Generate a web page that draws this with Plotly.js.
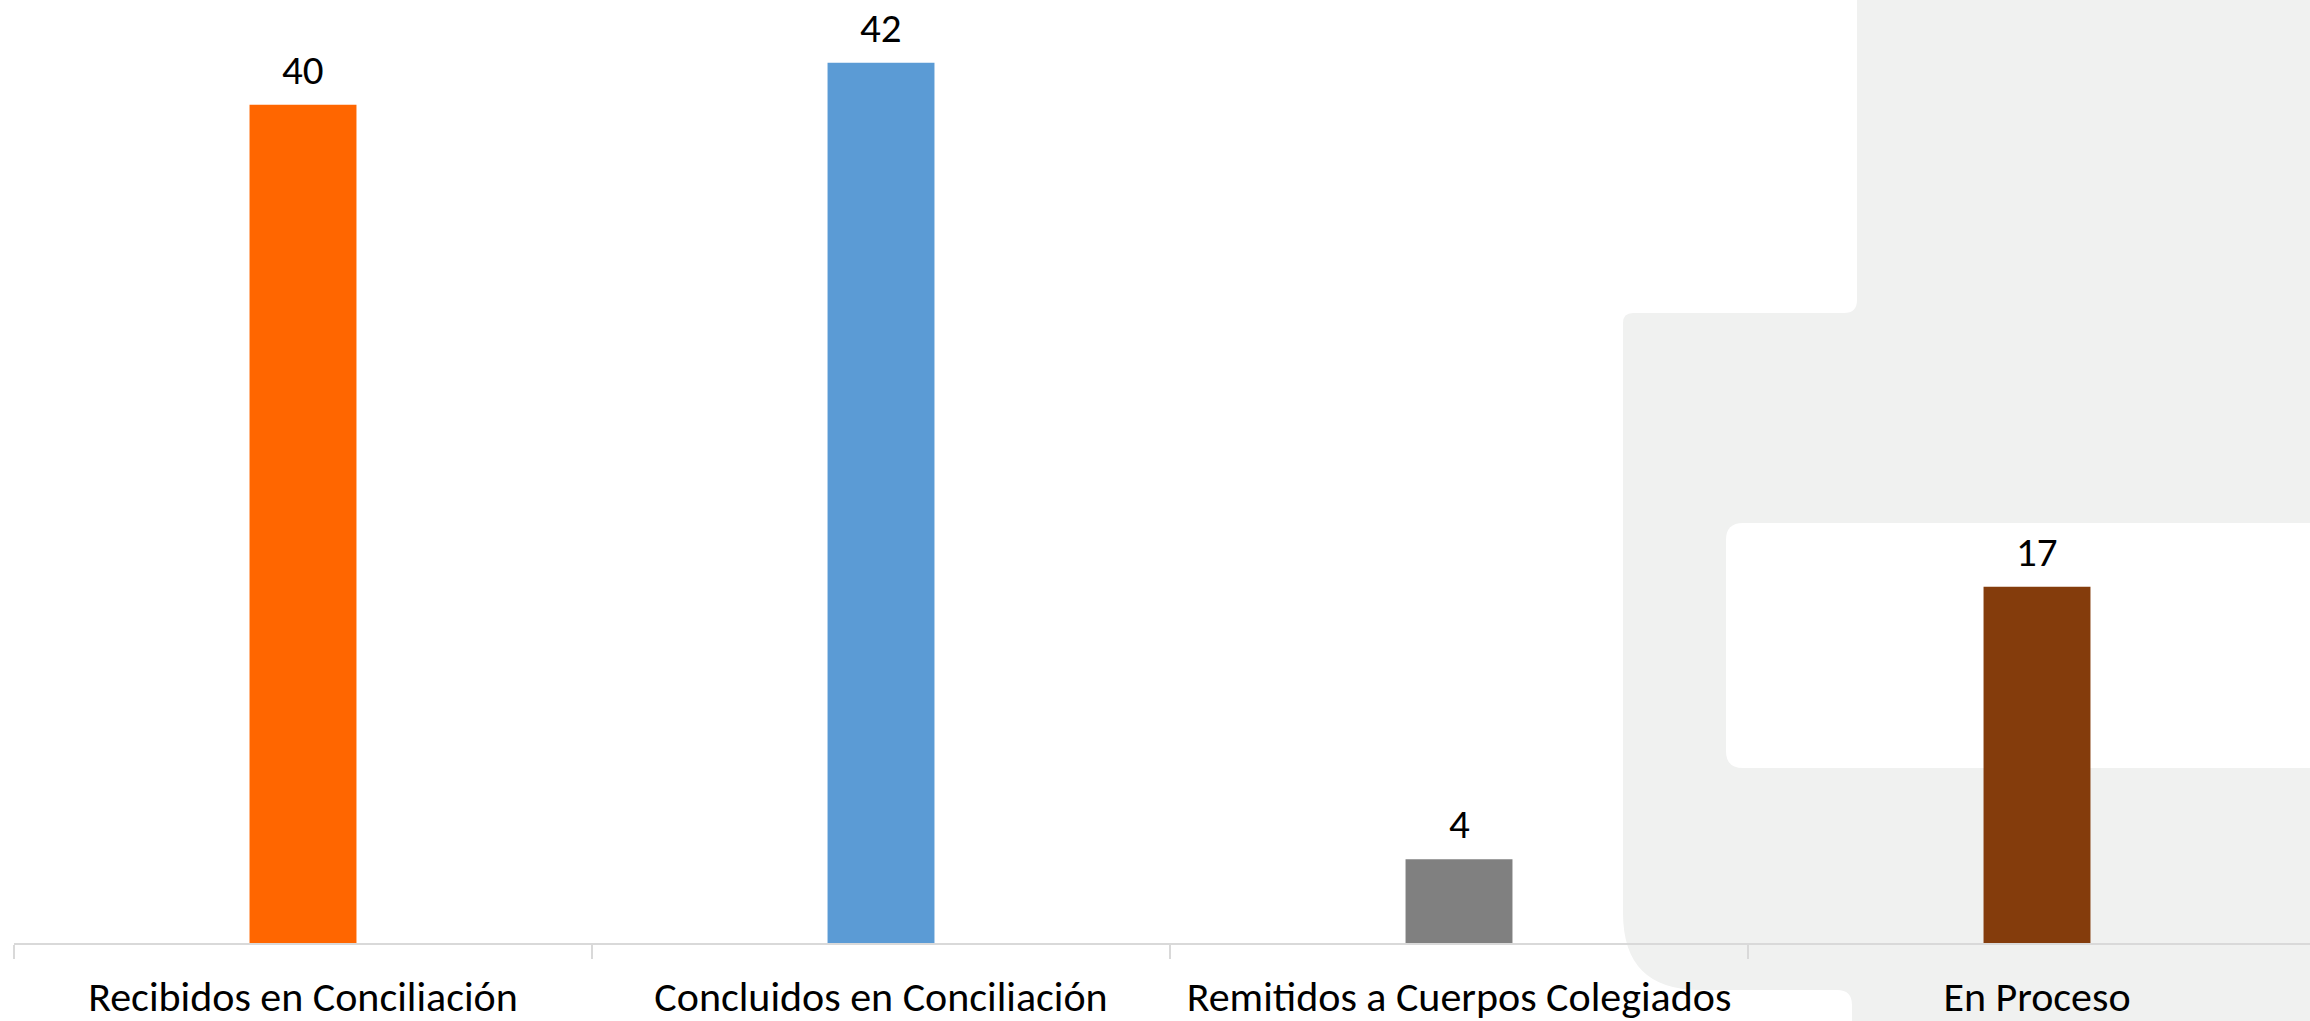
<!DOCTYPE html>
<html>
<head>
<meta charset="utf-8">
<script src="https://cdn.plot.ly/plotly-3.0.1.min.js"></script>
<style>
  html, body { margin: 0; padding: 0; background: #ffffff; overflow: hidden; }
  #chart { width: 2330px; height: 1021px; }
</style>
</head>
<body>
<div id="chart"></div>
<script>
// ---- data ----
const categories = [
  "Recibidos en Conciliación",
  "Concluidos en Conciliación",
  "Remitidos a Cuerpos Colegiados",
  "En Proceso"
];
const values = [40, 42, 4, 17];
const barColors = ["#FF6600", "#5B9BD5", "#808080", "#843C0C"];

// ---- layout geometry (pixels) ----
const W = 2330, H = 1021;
const M = { l: 14, r: 4, t: 0, b: 78 };
const plotW = W - M.l - M.r, plotH = H - M.t - M.b;
const px = x => (x - M.l) / plotW;
const py = y => (H - M.b - y) / plotH;
const FONT = "Calibri, Carlito, 'Open Sans', sans-serif";

// background decoration paths (paper coords built from pixel positions)
function pathFrom(cmds) {
  return cmds.map(c => {
    if (c[0] === 'Z') return 'Z';
    if (c[0] === 'Q') return `Q${px(c[1])},${py(c[2])} ${px(c[3])},${py(c[4])}`;
    return `${c[0]}${px(c[1])},${py(c[2])}`;
  }).join(' ');
}
const grayPath = pathFrom([
  ['M', 1857, -5], ['L', 2340, -5], ['L', 2340, 1030], ['L', 1852, 1030],
  ['L', 1852, 1005], ['Q', 1852, 990, 1837, 990],
  ['L', 1700, 990], ['Q', 1623, 990, 1623, 913],
  ['L', 1623, 323], ['Q', 1623, 313, 1633, 313],
  ['L', 1844, 313], ['Q', 1857, 313, 1857, 300],
  ['Z']
]);
const whitePath = pathFrom([
  ['M', 1743, 523], ['L', 2340, 523], ['L', 2340, 768], ['L', 1743, 768],
  ['Q', 1726, 768, 1726, 751], ['L', 1726, 540], ['Q', 1726, 523, 1743, 523], ['Z']
]);

const trace = {
  type: 'bar',
  x: categories,
  y: values,
  marker: { color: barColors, line: { width: 0 } },
  hoverinfo: 'none',
  cliponaxis: false
};

const annotations = categories.map((c, i) => ({
  x: c, y: values[i], xref: 'x', yref: 'y',
  text: String(values[i]),
  showarrow: false, yanchor: 'bottom', yshift: 8,
  font: { family: FONT, size: 41, color: '#000000' }
}));

const layout = {
  width: W, height: H,
  margin: M,
  paper_bgcolor: '#FFFFFF',
  plot_bgcolor: 'rgba(0,0,0,0)',
  showlegend: false,
  bargap: 0.815,
  font: { family: FONT, color: '#000000' },
  xaxis: {
    type: 'category',
    showline: true, linecolor: '#D9D9D9', linewidth: 2,
    ticks: 'outside', tickson: 'boundaries', ticklen: 14, tickcolor: '#D9D9D9', tickwidth: 2,
    tickfont: { family: FONT, size: 42, color: '#000000' },
    ticklabelstandoff: 16,
    showgrid: false, zeroline: false, fixedrange: true
  },
  yaxis: {
    range: [0, 45],
    visible: false, showgrid: false, zeroline: false, fixedrange: true
  },
  shapes: [
    { type: 'path', xref: 'paper', yref: 'paper', layer: 'below', path: grayPath,
      fillcolor: '#F0F1F0', line: { width: 0 } },
    { type: 'path', xref: 'paper', yref: 'paper', layer: 'below', path: whitePath,
      fillcolor: '#FFFFFF', line: { width: 0 } }
  ],
  annotations: annotations
};

Plotly.newPlot('chart', [trace], layout, { staticPlot: true, displayModeBar: false });
</script>
</body>
</html>
